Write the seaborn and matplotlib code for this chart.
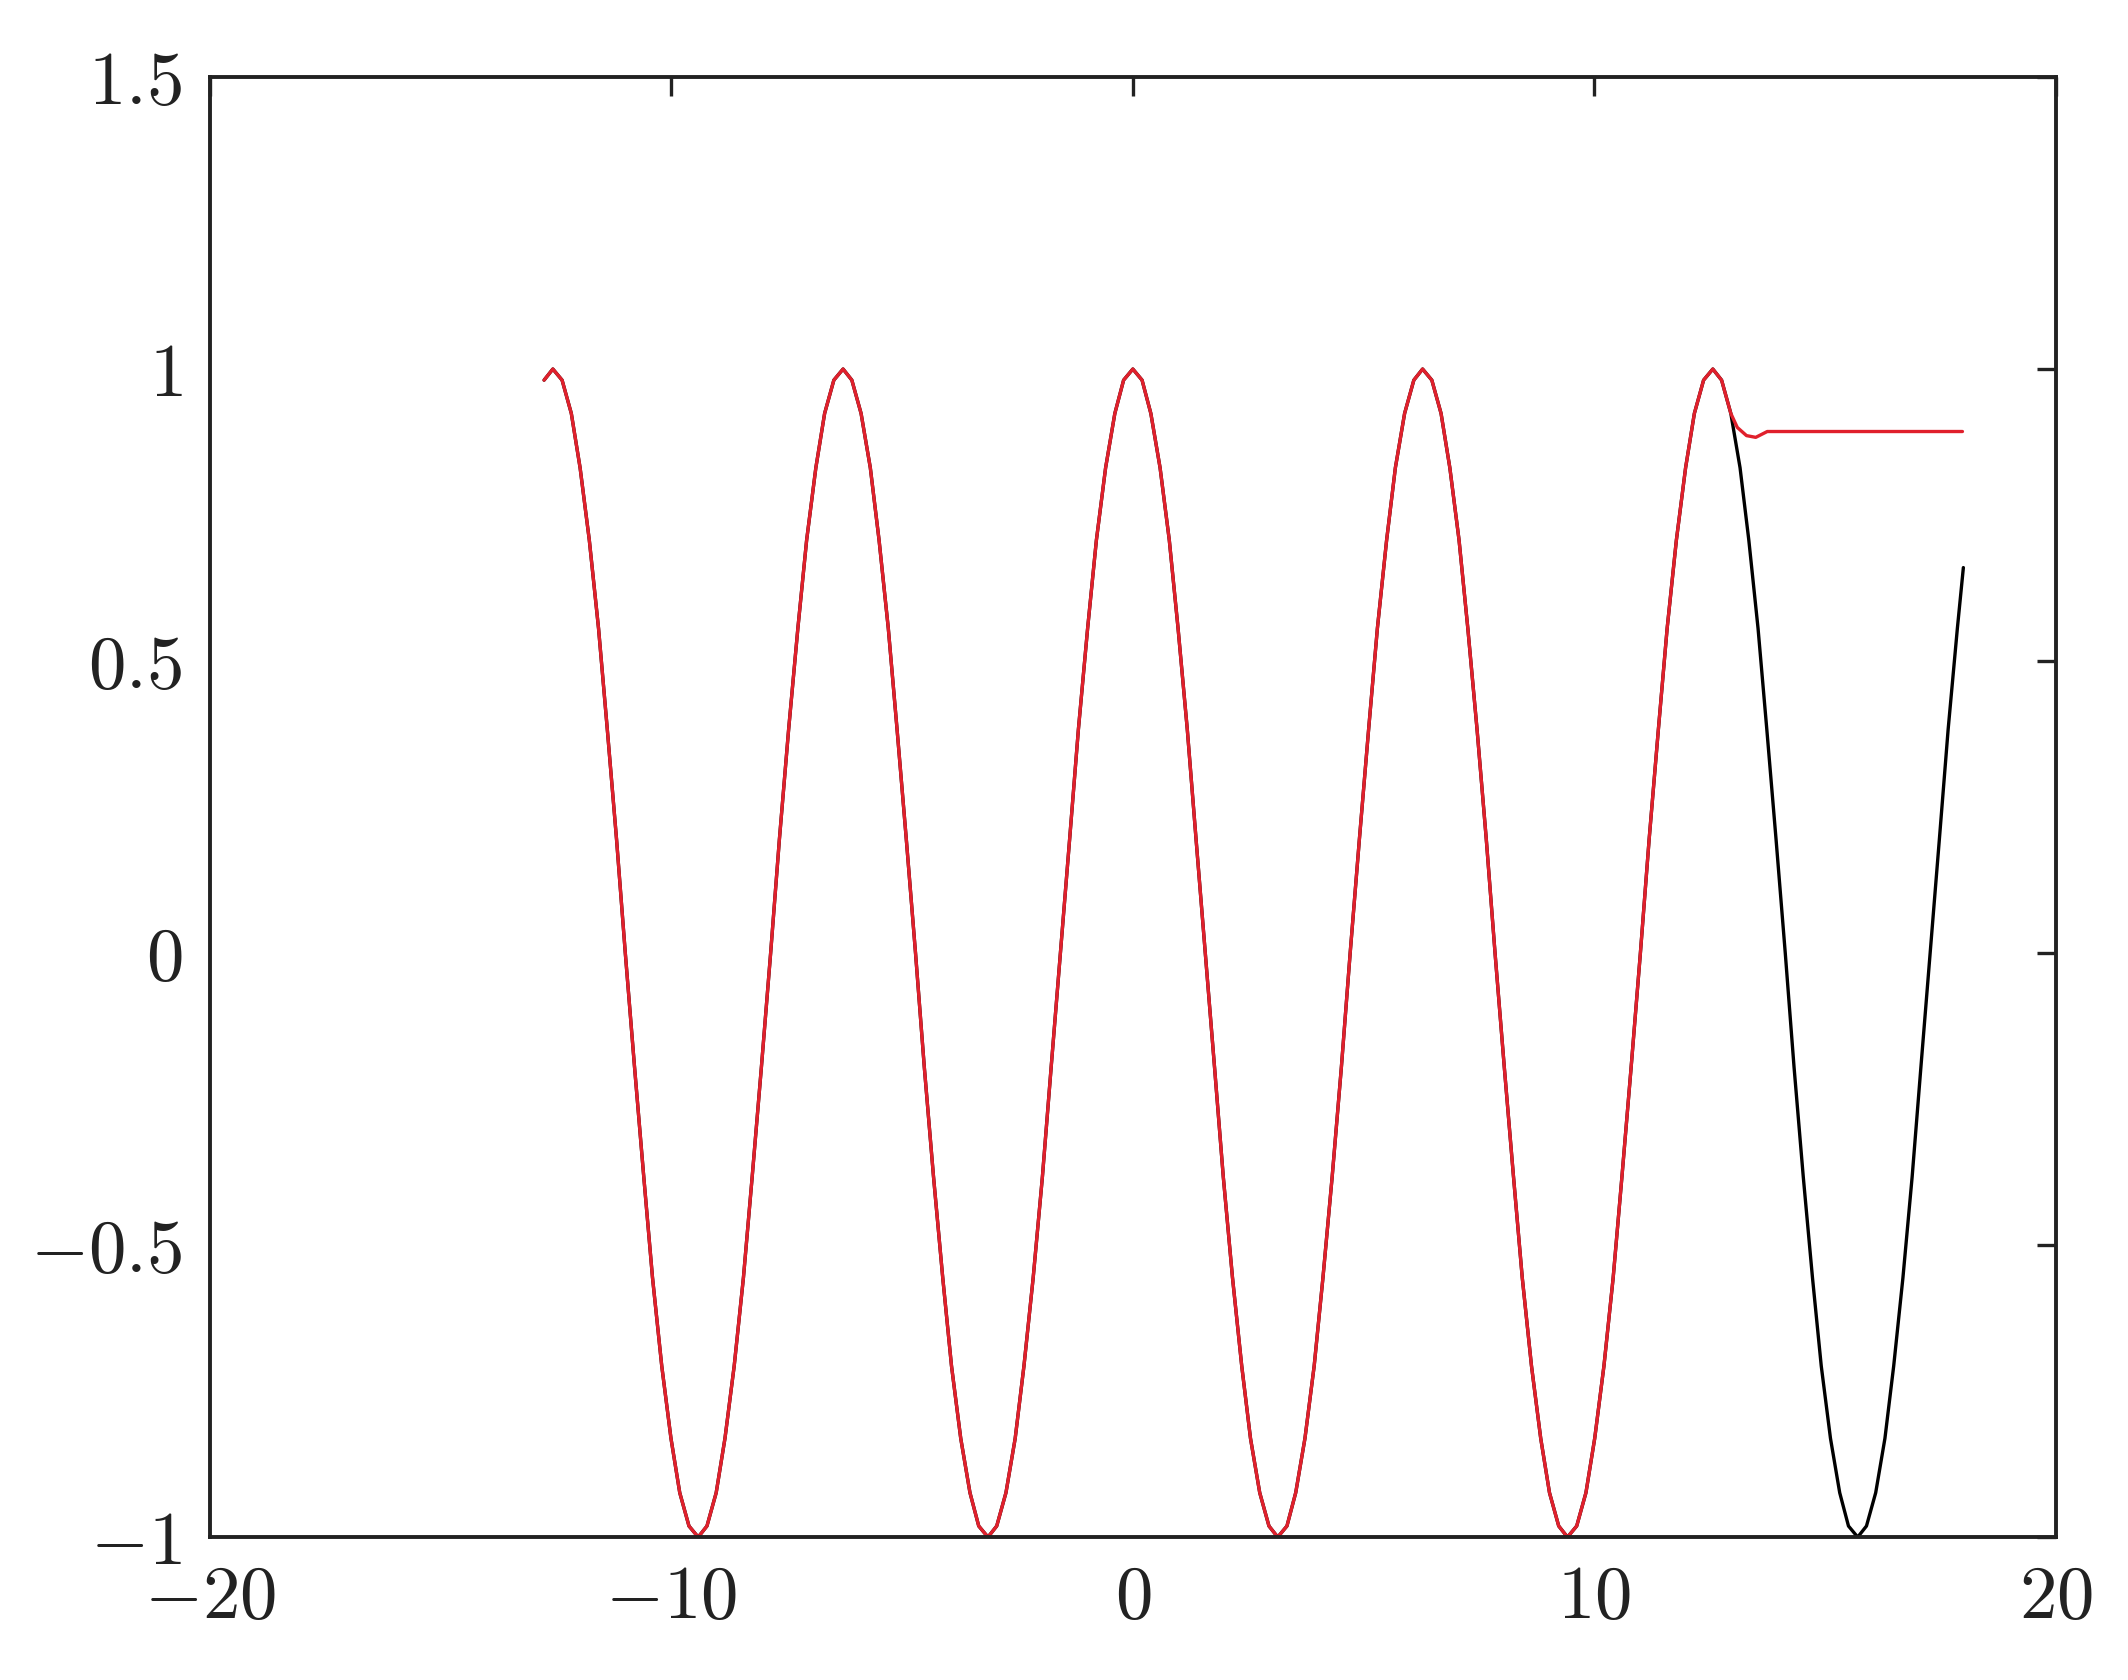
import pandas as pd
import matplotlib.pyplot as plt
import seaborn as sns

x_curve = [-12.76,
           -12.57, -12.37, -12.17, -11.98, -11.78, -11.58, -11.39, -11.19,
           -11.00, -10.80, -10.60, -10.41, -10.21, -10.01, -9.82, -9.62,
           -9.42, -9.23, -9.03, -8.84, -8.64, -8.44, -8.25, -8.05,
           -7.85, -7.66, -7.46, -7.26, -7.07, -6.87, -6.68, -6.48,
           -6.28, -6.09, -5.89, -5.69, -5.50, -5.30, -5.11, -4.91,
           -4.71, -4.52, -4.32, -4.12, -3.93, -3.73, -3.53, -3.34,
           -3.14, -2.95, -2.75, -2.55, -2.36, -2.16, -1.96, -1.77,
           -1.57, -1.37, -1.18, -0.98, -0.79, -0.59, -0.39, -0.20,
           0.00, 0.20, 0.39, 0.59, 0.79, 0.98, 1.18, 1.37,
           1.57, 1.77, 1.96, 2.16, 2.36, 2.55, 2.75, 2.95,
           3.14, 3.34, 3.53, 3.73, 3.93, 4.12, 4.32, 4.52,
           4.71, 4.91, 5.11, 5.30, 5.50, 5.69, 5.89, 6.09,
           6.28, 6.48, 6.68, 6.87, 7.07, 7.26, 7.46, 7.66,
           7.85, 8.05, 8.25, 8.44, 8.64, 8.84, 9.03, 9.23,
           9.42, 9.62, 9.82, 10.01, 10.21, 10.41, 10.60, 10.80,
           11.00, 11.19, 11.39, 11.58, 11.78, 11.98, 12.17, 12.37,
           12.57, 12.76, 12.96, 13.16, 13.35, 13.55, 13.74, 13.94,
           14.14, 14.33, 14.53, 14.73, 14.92, 15.12, 15.32, 15.51,
           15.71, 15.90, 16.10, 16.30, 16.49, 16.69, 16.89, 17.08,
           17.28, 17.48, 17.67, 17.87, 18.00]
y_curve = [0.981,
           1.000, 0.981, 0.924, 0.831, 0.707, 0.556, 0.383, 0.195,
           0.000, -0.195, -0.383, -0.556, -0.707, -0.831, -0.924, -0.981,
           -1.000, -0.981, -0.924, -0.831, -0.707, -0.556, -0.383, -0.195,
           0.000, 0.195, 0.383, 0.556, 0.707, 0.831, 0.924, 0.981,
           1.000, 0.981, 0.924, 0.831, 0.707, 0.556, 0.383, 0.195,
           0.000, -0.195, -0.383, -0.556, -0.707, -0.831, -0.924, -0.981,
           -1.000, -0.981, -0.924, -0.831, -0.707, -0.556, -0.383, -0.195,
           0.000, 0.195, 0.383, 0.556, 0.707, 0.831, 0.924, 0.981,
           1.000, 0.981, 0.924, 0.831, 0.707, 0.556, 0.383, 0.195,
           0.000, -0.195, -0.383, -0.556, -0.707, -0.831, -0.924, -0.981,
           -1.000, -0.981, -0.924, -0.831, -0.707, -0.556, -0.383, -0.195,
           0.000, 0.195, 0.383, 0.556, 0.707, 0.831, 0.924, 0.981,
           1.000, 0.981, 0.924, 0.831, 0.707, 0.556, 0.383, 0.195,
           0.000, -0.195, -0.383, -0.556, -0.707, -0.831, -0.924, -0.981,
           -1.000, -0.981, -0.924, -0.831, -0.707, -0.556, -0.383, -0.195,
           0.000, 0.195, 0.383, 0.556, 0.707, 0.831, 0.924, 0.981,
           1.000, 0.981, 0.924, 0.831, 0.707, 0.556, 0.383, 0.195,
           0.000, -0.195, -0.383, -0.556, -0.707, -0.831, -0.924, -0.981,
           -1.000, -0.981, -0.924, -0.831, -0.707, -0.556, -0.383, -0.195,
           0.000, 0.195, 0.383, 0.556, 0.660]

# red trace follows the curve up to ~13 and then stays flat
n_red = 132
x_flat = [13.10, 13.30, 13.50, 13.75, 17.98]
y_flat = [0.900, 0.886, 0.883, 0.893, 0.893]

x_ticks = [-20, -10, 0, 10, 20]
x_labels = [r"$-20$", r"$-10$", r"$0$", r"$10$", r"$20$"]
y_ticks = [-1, -0.5, 0, 0.5, 1, 1.5]
y_labels = [r"$-1$", r"$-0.5$", r"$0$", r"$0.5$", r"$1$", r"$1.5$"]

sns.set_style("white")
plt.rcParams["font.family"] = ["cmr10", "DejaVu Serif"]
plt.rcParams["mathtext.fontset"] = "cm"

black = pd.DataFrame({"x": x_curve, "y": y_curve})
red = pd.DataFrame({"x": x_curve[:n_red] + x_flat, "y": y_curve[:n_red] + y_flat})

fig, ax = plt.subplots(figsize=(10.64, 8.405), dpi=200)
fig.subplots_adjust(left=0.0987, right=0.966, bottom=0.085, top=0.9536)

sns.lineplot(data=black, x="x", y="y", sort=False, estimator=None,
             color="black", linewidth=1.2, ax=ax)
sns.lineplot(data=red, x="x", y="y", sort=False, estimator=None,
             color="#e0202c", linewidth=1.2, ax=ax)

ax.set_xlim(-20, 20)
ax.set_ylim(-1, 1.5)
ax.set_xticks(x_ticks)
ax.set_xticklabels(x_labels)
ax.set_yticks(y_ticks)
ax.set_yticklabels(y_labels)
ax.set_xlabel("")
ax.set_ylabel("")
ax.tick_params(direction="in", length=7, width=1.2, top=True, right=True,
               labelsize=27, pad=10, colors="#222222")
for s in ax.spines.values():
    s.set_color("#222222")
    s.set_linewidth(1.4)

plt.savefig("out.png")
